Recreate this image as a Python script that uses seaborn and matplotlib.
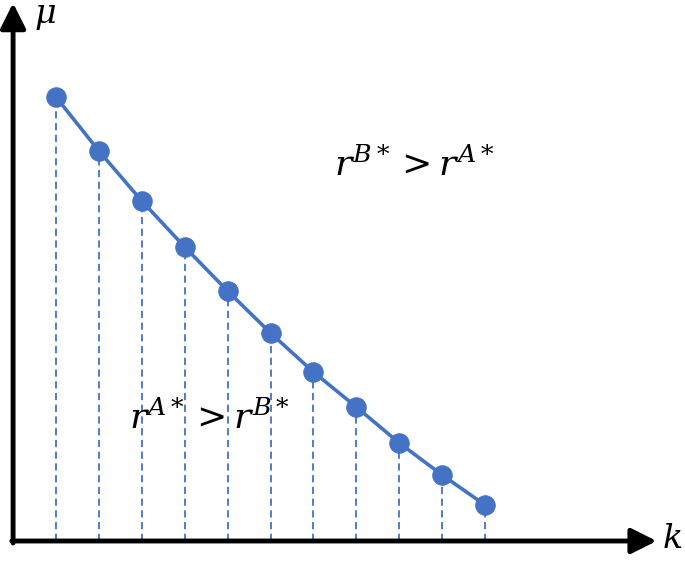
import numpy as np
import pandas as pd
import seaborn as sns
import matplotlib.pyplot as plt

# valores
k = [1, 2, 3, 4, 5, 6, 7, 8, 9, 10, 11]
mu = [4.44, 3.90, 3.40, 2.94, 2.50, 2.08, 1.69, 1.34, 0.98, 0.66, 0.36]
texto_cima = r"$r^{B*} > r^{A*}$"
texto_baixo = r"$r^{A*} > r^{B*}$"

azul = "#4472C4"

sns.set_style("white")
plt.rcParams["mathtext.fontset"] = "dejavuserif"

fig = plt.figure(figsize=(6.85, 5.61), dpi=100)
ax = fig.add_axes([0, 0, 1, 1])

tabela = pd.DataFrame({"k": k, "mu": mu})

# linhas tracejadas ate o eixo
ax.vlines(tabela["k"], 0, tabela["mu"], colors=azul, linestyles=(0, (4, 2.5)), lw=1.3)

sns.lineplot(data=tabela, x="k", y="mu", ax=ax, color=azul, lw=2.6,
             marker="o", markersize=14, markeredgecolor=azul, zorder=3)

# eixos com setas
seta = dict(arrowstyle="-|>,head_length=1.1,head_width=0.55", color="black",
            lw=3.5, mutation_scale=14, shrinkA=0, shrinkB=0)
ax.annotate("", xy=(15.0, 0), xytext=(-0.03, 0), arrowprops=seta)
ax.annotate("", xy=(0, 5.38), xytext=(0, -0.02), arrowprops=seta)

ax.text(0.74, 5.26, r"$\mu$", fontsize=24, color="black", ha="center", va="center")
ax.text(15.36, 0.02, r"$k$", fontsize=24, color="black", ha="center", va="center")

ax.text(9.36, 3.76, texto_cima, fontsize=26, color="black", ha="center", va="center")
ax.text(4.58, 1.23, texto_baixo, fontsize=26, color="black", ha="center", va="center")

ax.set_xlim(-0.305, 15.66)
ax.set_ylim(-0.20, 5.41)
ax.axis("off")

plt.savefig("out.png", dpi=100)
